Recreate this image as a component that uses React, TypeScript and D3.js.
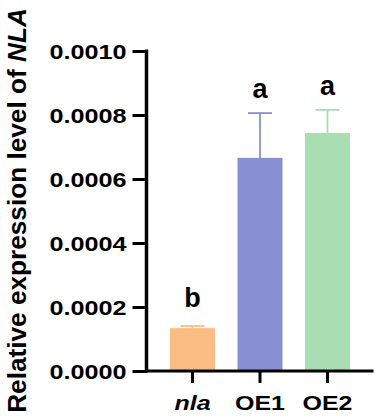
import { useEffect, useRef } from "react";
import * as d3 from "d3";

const categories = ["nla", "OE1", "OE2"];
const means = [0.000134, 0.000666, 0.000744];
const errors = [0.0000066, 0.00014, 0.000072];
const letters = ["b", "a", "a"];
const colors = ["#FBBD84", "#8890D2", "#A9DDB2"];
const yTicks = [0, 0.0002, 0.0004, 0.0006, 0.0008, 0.001];

const W = 381;
const H = 419;
const FONT = "'Liberation Sans', Arial, Helvetica, sans-serif";

export default function App() {
  const svgRef = useRef<SVGSVGElement>(null);

  useEffect(() => {
    if (!svgRef.current) return;
    const svg = d3.select(svgRef.current);
    svg.selectAll("*").remove();

    const left = 146.5;
    const right = 373.5;
    const top = 51;
    const bottom = 371;

    const x = d3.scaleBand<string>()
      .domain(categories)
      .range([left, right])
      .paddingInner(1 / 3)
      .paddingOuter(0.348);

    const y = d3.scaleLinear().domain([0, 0.001]).range([bottom, top]);

    const data = categories.map((c, i) => ({
      cat: c, mean: means[i], err: errors[i], letter: letters[i], color: colors[i],
    }));

    // bars
    svg.append("g")
      .selectAll("rect")
      .data(data)
      .enter()
      .append("rect")
      .attr("x", d => x(d.cat)!)
      .attr("width", x.bandwidth())
      .attr("y", d => y(d.mean))
      .attr("height", d => y(0) - y(d.mean))
      .attr("fill", d => d.color);

    // error bars (upper only)
    const eb = svg.append("g");
    data.forEach(d => {
      const cx = x(d.cat)! + x.bandwidth() / 2;
      eb.append("line")
        .attr("x1", cx).attr("x2", cx)
        .attr("y1", y(d.mean)).attr("y2", y(d.mean + d.err))
        .attr("stroke", d.color).attr("stroke-width", 1.8);
      eb.append("line")
        .attr("x1", cx - 12).attr("x2", cx + 12)
        .attr("y1", y(d.mean + d.err)).attr("y2", y(d.mean + d.err))
        .attr("stroke", d.color).attr("stroke-width", 1.8);
    });

    // significance letters
    svg.append("g")
      .selectAll("text")
      .data(data)
      .enter()
      .append("text")
      .attr("x", d => x(d.cat)! + x.bandwidth() / 2)
      .attr("y", d => y(d.mean + d.err) - (d.letter === "b" ? 19 : 15))
      .attr("text-anchor", "middle")
      .attr("font-family", FONT)
      .attr("font-weight", "bold")
      .attr("font-size", 27)
      .attr("fill", "#000")
      .text(d => d.letter);

    // y axis
    const yAxis = svg.append("g")
      .attr("transform", `translate(${left},0)`)
      .call(d3.axisLeft(y).tickValues(yTicks).tickSize(14).tickSizeOuter(0)
        .tickFormat(d => d3.format(".4f")(d as number)));
    yAxis.select(".domain").attr("stroke", "#000").attr("stroke-width", 3.5)
      .attr("d", `M0,${top - 1.5}V${bottom + 1.5}`);
    yAxis.selectAll(".tick line").attr("stroke", "#000").attr("stroke-width", 3);
    yAxis.selectAll<SVGTextElement, number>(".tick text")
      .attr("x", 0).attr("dy", "0.36em")
      .attr("transform", "translate(-20,0) scale(1.2,1)")
      .attr("font-family", FONT).attr("font-weight", "bold")
      .attr("font-size", 21).attr("fill", "#000");

    // x axis
    const xAxis = svg.append("g")
      .attr("transform", `translate(0,${bottom})`)
      .call(d3.axisBottom(x).tickSize(12).tickSizeOuter(0));
    xAxis.select(".domain").attr("stroke", "#000").attr("stroke-width", 3)
      .attr("d", `M${left - 1.5},0H${right}`);
    xAxis.selectAll(".tick line").attr("stroke", "#000").attr("stroke-width", 3);
    xAxis.selectAll<SVGTextElement, string>(".tick text")
      .attr("y", 0).attr("dy", 0)
      .attr("transform", "translate(0,39) scale(1.25,1)")
      .attr("font-family", FONT).attr("font-weight", "bold")
      .attr("font-size", 20).attr("fill", "#000")
      .attr("font-style", d => (d === "nla" ? "italic" : "normal"));

    // y title
    const title = svg.append("text")
      .attr("transform", `translate(25.5,${(8 + 413) / 2}) rotate(-90)`)
      .attr("text-anchor", "middle")
      .attr("font-family", FONT)
      .attr("font-weight", "bold")
      .attr("font-size", 26.2)
      .attr("fill", "#000");
    title.append("tspan").text("Relative expression level of ");
    title.append("tspan").attr("font-style", "italic").text("NLA");
  }, []);

  return (
    <svg
      ref={svgRef}
      width={W}
      height={H}
      style={{ position: "absolute", left: 0, top: 0, background: "#fff" }}
    />
  );
}
